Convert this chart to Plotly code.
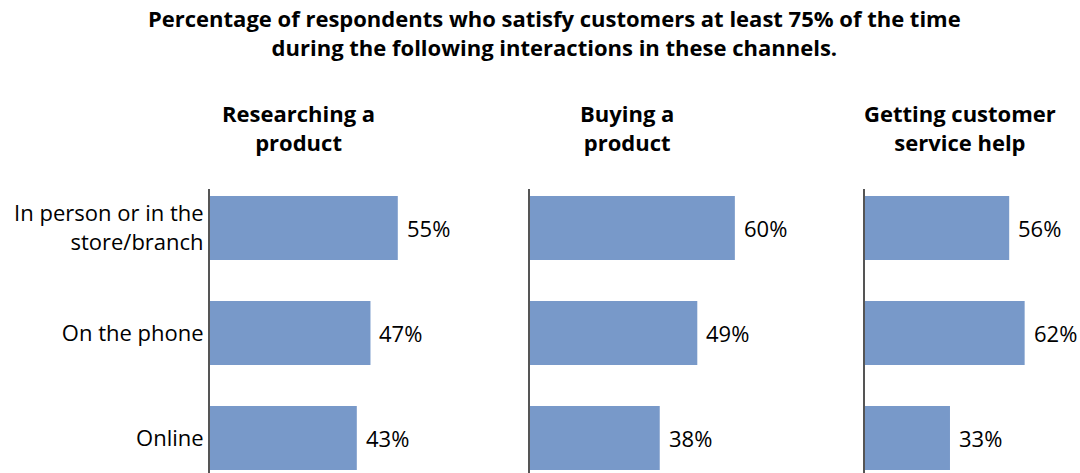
import plotly.graph_objects as go
from plotly.subplots import make_subplots

channels = ["In person or in the<br>store/branch", "On the phone", "Online"]
panel_titles = ["Researching a<br>product", "Buying a<br>product", "Getting customer<br>service help"]
researching = [55, 47, 43]
buying = [60, 49, 38]
service = [56, 62, 33]
series = [researching, buying, service]

W, H = 1080, 473
TOP = 189
BAR_COLOR = "#7899C9"
FONT = "Open Sans"

fig = make_subplots(rows=1, cols=3)

domains = [(210 / W, 449 / W), (530 / W, 769 / W), (865 / W, 1071 / W)]
ranges = [[0, 70], [0, 70], [0, 80]]

for i, vals in enumerate(series):
    fig.add_trace(
        go.Bar(
            x=vals,
            y=channels,
            orientation="h",
            marker=dict(color=BAR_COLOR, line=dict(width=0)),
            width=0.61,
            showlegend=False,
            hoverinfo="skip",
        ),
        row=1,
        col=i + 1,
    )
    sfx = "" if i == 0 else str(i + 1)
    for v, c in zip(vals, channels):
        fig.add_annotation(
            x=v,
            y=c,
            xref="x" + sfx,
            yref="y" + sfx,
            text=f"{v}%",
            showarrow=False,
            xanchor="left",
            yanchor="middle",
            xshift=7,
            font=dict(family=FONT, size=22, color="#000000"),
        )
    xa = "xaxis" if i == 0 else f"xaxis{i+1}"
    ya = "yaxis" if i == 0 else f"yaxis{i+1}"
    fig.layout[xa].update(
        domain=list(domains[i]),
        range=ranges[i],
        showgrid=False,
        zeroline=False,
        showticklabels=False,
        showline=False,
        ticks="",
    )
    fig.layout[ya].update(
        domain=[0, 1],
        range=[2.333, -0.371],
        showgrid=False,
        zeroline=False,
        showline=True,
        linecolor="#555555",
        linewidth=2,
        ticks="",
        showticklabels=(i == 0),
        tickfont=dict(family=FONT, size=22, color="#000000"),
        ticklabelstandoff=0,
    )

centers = [298, 627, 960]
for c, t in zip(centers, panel_titles):
    fig.add_annotation(
        x=c / W,
        y=(H - 127) / (H - TOP),
        xref="paper",
        yref="paper",
        text=f"<b>{t}</b>",
        showarrow=False,
        xanchor="center",
        yanchor="middle",
        align="center",
        font=dict(family=FONT, size=22, color="#000000"),
    )

fig.add_annotation(
    x=554 / W,
    y=(H - 32) / (H - TOP),
    xref="paper",
    yref="paper",
    text="<b>Percentage of respondents who satisfy customers at least 75% of the time<br>during the following interactions in these channels.</b>",
    showarrow=False,
    xanchor="center",
    yanchor="middle",
    align="center",
    font=dict(family=FONT, size=22, color="#000000"),
)

fig.update_layout(
    width=W,
    height=H,
    margin=dict(l=0, r=0, t=TOP, b=0),
    paper_bgcolor="white",
    plot_bgcolor="white",
)

fig.write_html("out.html")
